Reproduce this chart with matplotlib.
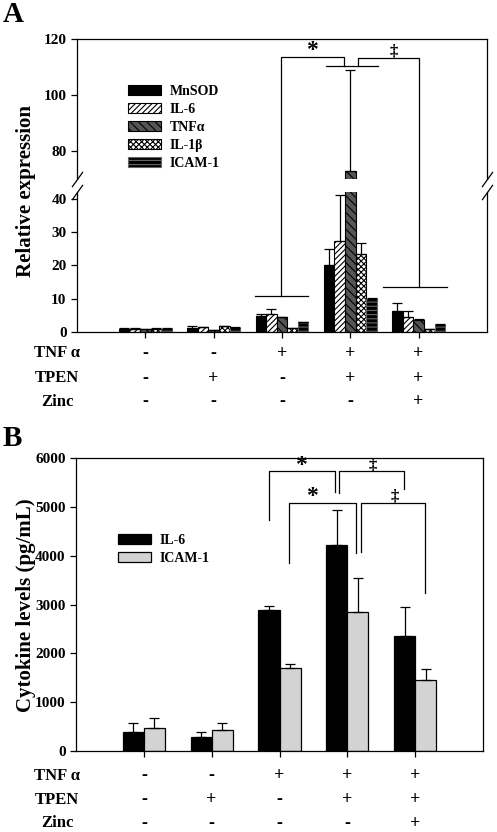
import numpy as np
import matplotlib
matplotlib.use("Agg")
import matplotlib.pyplot as plt
from matplotlib.lines import Line2D

plt.rcParams['font.family'] = ['Liberation Serif', 'DejaVu Serif']
plt.rcParams['font.weight'] = 'bold'
plt.rcParams['hatch.linewidth'] = 0.8

# ---- data, panel A (relative expression) ----
genes = ['MnSOD', 'IL-6', 'TNF\u03b1', 'IL-1\u03b2', 'ICAM-1']
expr = [
    [1.0, 1.2, 4.8, 20.0, 6.3],     # MnSOD
    [1.0, 1.4, 5.5, 27.3, 4.5],     # IL-6
    [0.8, 0.5, 4.4, 73.0, 3.6],     # TNFa
    [1.0, 1.8, 1.2, 23.3, 0.9],     # IL-1b
    [1.0, 1.3, 3.0, 10.0, 2.2],     # ICAM-1
]
expr_err = [
    [0.1, 0.6, 0.6, 4.8, 2.5],
    [0.1, 0.2, 1.3, 13.8, 1.8],
    [0.1, 0.1, 0.2, 36.0, 0.4],
    [0.1, 0.1, 0.1, 3.3, 0.1],
    [0.1, 0.1, 0.1, 0.1, 0.1],
]

# ---- data, panel B (cytokine levels) ----
cytokines = ['IL-6', 'ICAM-1']
levels = [
    [395, 290, 2890, 4210, 2360],
    [465, 430, 1690, 2855, 1455],
]
levels_err = [
    [185, 95, 70, 730, 585],
    [205, 135, 95, 685, 225],
]

conditions = ['TNF \u03b1', 'TPEN', 'Zinc']
signs = [
    ['-', '-', '+', '+', '+'],
    ['-', '+', '-', '+', '+'],
    ['-', '-', '-', '-', '+'],
]

x = np.arange(1, 6)

W, H = 497, 832
fig = plt.figure(figsize=(W / 100, H / 100), dpi=100)


def rect(l, t, r, b):
    return [l / W, 1 - b / H, (r - l) / W, (b - t) / H]


ax_hi = fig.add_axes(rect(77, 39, 487, 179))
ax_lo = fig.add_axes(rect(77, 192, 487, 332))
ax_b = fig.add_axes(rect(76, 458, 483, 751))

styles = [
    dict(facecolor='black', edgecolor='black', hatch=None),
    dict(facecolor='white', edgecolor='black', hatch='//////'),
    dict(facecolor='#555555', edgecolor='black', hatch='\\\\\\\\'),
    dict(facecolor='white', edgecolor='black', hatch='xxxxxx'),
    dict(facecolor='black', edgecolor='#666666', hatch='----'),
]

bw = 0.155
handles = []
for ax in (ax_hi, ax_lo):
    for i in range(5):
        pos = x + (i - 2) * bw
        bars = ax.bar(pos, expr[i], bw, linewidth=0.8, **styles[i])
        ax.errorbar(pos, expr[i], yerr=[np.zeros(5), expr_err[i]], fmt='none',
                    ecolor='black', elinewidth=0.9, capsize=3.5, capthick=0.9)
        if ax is ax_hi:
            handles.append(bars)

ax_hi.set_ylim(70, 120)
ax_lo.set_ylim(0, 42)
for ax in (ax_hi, ax_lo, ax_b):
    ax.set_xlim(0, 6)
    ax.tick_params(axis='y', direction='out', length=4, width=0.9, labelsize=11, right=False)
    ax.tick_params(axis='x', direction='out', length=4, width=0.9, labelbottom=False)
    for s in ax.spines.values():
        s.set_linewidth(0.9)

ax_hi.set_yticks([80, 100, 120])
ax_lo.set_yticks([0, 10, 20, 30, 40])
ax_hi.spines['bottom'].set_visible(False)
ax_hi.tick_params(axis='x', bottom=False)
ax_lo.spines['top'].set_visible(False)
ax_lo.set_xticks(x)
for ax in (ax_hi, ax_lo):
    for lab in ax.get_yticklabels():
        lab.set_fontweight('bold')

# break marks
kw = dict(marker=[(-1, -1.4), (1, 1.4)], markersize=11, linestyle='none',
          color='black', mew=0.9, mec='black', clip_on=False)
ax_hi.plot([0, 1], [0, 0], transform=ax_hi.transAxes, **kw)
ax_lo.plot([0, 1], [1, 1], transform=ax_lo.transAxes, **kw)

ax_hi.legend(handles, genes, loc='upper left', bbox_to_anchor=(0.124, 0.67),
             frameon=False, handlelength=2.4, handleheight=0.7,
             labelspacing=0.35, handletextpad=0.6, borderpad=0, borderaxespad=0,
             prop={'weight': 'bold', 'size': 10})


def fpt(ax, px, py):
    return fig.transFigure.inverted().transform(ax.transData.transform((px, py)))


def seg(pts, lw=0.9):
    xs = [p[0] for p in pts]
    ys = [p[1] for p in pts]
    fig.add_artist(Line2D(xs, ys, transform=fig.transFigure, color='black', lw=lw))


# panel A brackets
seg([fpt(ax_lo, 2.61, 10.7), fpt(ax_lo, 3.38, 10.7)])
seg([fpt(ax_lo, 2.99, 10.7), fpt(ax_hi, 2.99, 113.6), fpt(ax_hi, 3.91, 113.6), fpt(ax_hi, 3.91, 110.4)])
seg([fpt(ax_hi, 3.64, 110.4), fpt(ax_hi, 4.41, 110.4)])
seg([fpt(ax_hi, 4.11, 110.4), fpt(ax_hi, 4.11, 113.1), fpt(ax_hi, 5.0, 113.1), fpt(ax_lo, 5.0, 13.5)])
seg([fpt(ax_lo, 4.48, 13.5), fpt(ax_lo, 5.42, 13.5)])
ax_hi.text(3.44, 112.2, '*', ha='center', va='bottom', fontsize=17, fontweight='bold')
ax_hi.text(4.63, 112.6, '\u2021', ha='center', va='bottom', fontsize=12, fontweight='bold')

# ---- panel B ----
bwb = 0.31
colors_b = ['black', '#d3d3d3']
hb = []
for i in range(2):
    pos = x + (i - 0.5) * bwb
    bars = ax_b.bar(pos, levels[i], bwb, color=colors_b[i], edgecolor='black', linewidth=0.9)
    ax_b.errorbar(pos, levels[i], yerr=[np.zeros(5), levels_err[i]], fmt='none',
                  ecolor='black', elinewidth=0.9, capsize=3.5, capthick=0.9)
    hb.append(bars)
ax_b.set_ylim(0, 6000)
ax_b.set_yticks(np.arange(0, 6001, 1000))
ax_b.set_xticks(x)
for lab in ax_b.get_yticklabels():
    lab.set_fontweight('bold')
ax_b.legend(hb, cytokines, loc='upper left', bbox_to_anchor=(0.103, 0.74),
            frameon=False, handlelength=2.4, handleheight=0.7, labelspacing=0.35,
            handletextpad=0.6, borderpad=0, borderaxespad=0,
            prop={'weight': 'bold', 'size': 10})


def bracket(ax, x0, y0, x1, y1, ytop):
    ax.plot([x0, x0, x1, x1], [y0, ytop, ytop, y1], color='black', lw=0.9, clip_on=False)


bracket(ax_b, 2.85, 4734, 3.82, 5313, 5738)
bracket(ax_b, 3.88, 5287, 4.84, 5369, 5738)
bracket(ax_b, 3.14, 3852, 4.13, 4057, 5088)
bracket(ax_b, 4.20, 4084, 5.15, 3238, 5088)
ax_b.text(3.32, 5640, '*', ha='center', va='bottom', fontsize=17, fontweight='bold')
ax_b.text(4.38, 5690, '\u2021', ha='center', va='bottom', fontsize=12, fontweight='bold')
ax_b.text(3.48, 4990, '*', ha='center', va='bottom', fontsize=17, fontweight='bold')
ax_b.text(4.70, 5040, '\u2021', ha='center', va='bottom', fontsize=12, fontweight='bold')

# condition rows under each panel
for ax, ys in ((ax_lo, (353, 378, 402)), (ax_b, (776, 800, 823))):
    for row, yp in enumerate(ys):
        yf = 1 - yp / H
        fig.text(57 / W, yf, conditions[row], ha='center', va='center', fontsize=12,
                 fontweight='bold')
        for k in range(5):
            xf = fpt(ax, x[k], 0)[0]
            fig.text(xf, yf, signs[row][k], ha='center', va='center', fontsize=13,
                     fontweight='bold')

fig.text(26 / W, 1 - 191 / H, 'Relative expression', rotation=90, ha='center', va='center',
         fontsize=15, fontweight='bold')
fig.text(26 / W, 1 - 605 / H, 'Cytokine levels (pg/mL)', rotation=90, ha='center',
         va='center', fontsize=15, fontweight='bold')
fig.text(3 / W, 1 - 15 / H, 'A', ha='left', va='center', fontsize=21, fontweight='bold')
fig.text(3 / W, 1 - 439 / H, 'B', ha='left', va='center', fontsize=21, fontweight='bold')

fig.savefig('out.png', dpi=100)
